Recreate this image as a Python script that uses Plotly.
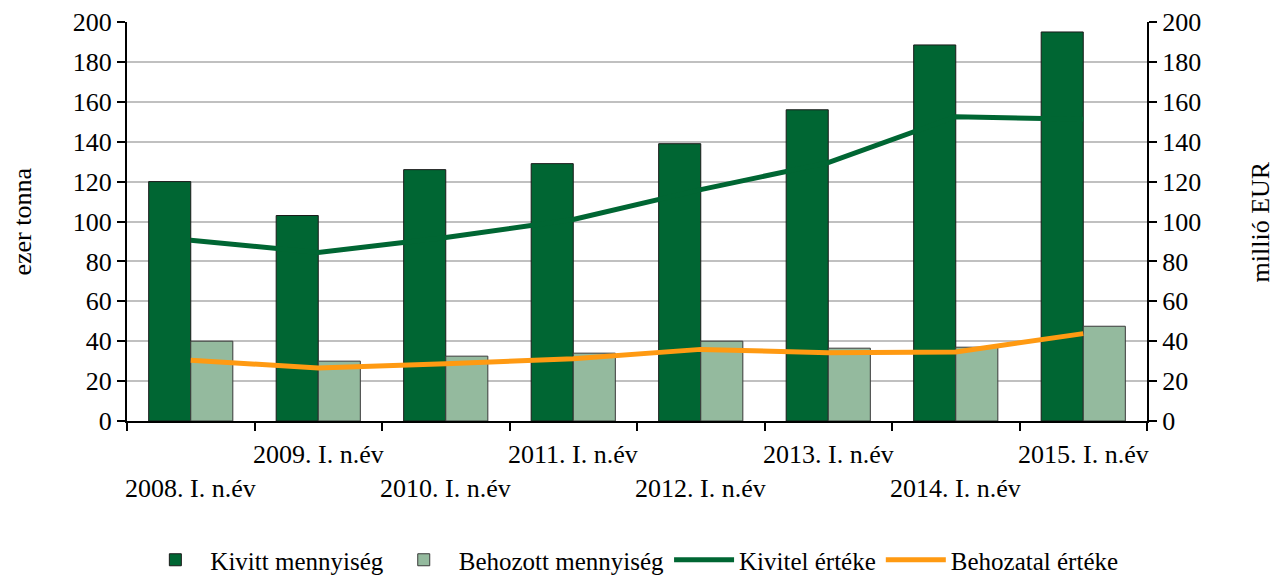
import plotly.graph_objects as go

categories = ["2008. I. n.év", "2009. I. n.év", "2010. I. n.év", "2011. I. n.év",
              "2012. I. n.év", "2013. I. n.év", "2014. I. n.év", "2015. I. n.év"]
kivitt_mennyiseg = [120, 103, 126, 129, 139, 156, 188.5, 195]
behozott_mennyiseg = [40, 30, 32.5, 34, 40, 36.5, 37, 47.5]
kivitel_erteke = [90.6, 84.5, 92, 101, 116, 129.5, 152.5, 151.2]
behozatal_erteke = [30.4, 26.6, 28.7, 31.2, 35.9, 34.2, 34.6, 43.8]
y_ticks = list(range(0, 201, 20))

FONT = "Times New Roman, Liberation Serif, serif"
FS = 26
DARK = "#006633"
LIGHT = "#94BA9E"
ORANGE = "#FF9A12"

fig = go.Figure()
fig.add_trace(go.Bar(x=categories, y=kivitt_mennyiseg, name="Kivitt mennyiség",
                     marker=dict(color=DARK, line=dict(color="#1a1a1a", width=1))))
fig.add_trace(go.Bar(x=categories, y=behozott_mennyiseg, name="Behozott mennyiség",
                     marker=dict(color=LIGHT, line=dict(color="#3a3a3a", width=1))))
fig.add_trace(go.Scatter(x=categories, y=kivitel_erteke, name="Kivitel értéke",
                         mode="lines", line=dict(color=DARK, width=5), yaxis="y2"))
fig.add_trace(go.Scatter(x=categories, y=behozatal_erteke, name="Behozatal értéke",
                         mode="lines", line=dict(color=ORANGE, width=5), yaxis="y2"))

# staggered category labels
for i, c in enumerate(categories):
    fig.add_annotation(x=c, xref="x", yref="paper",
                       y=-0.168 if i % 2 == 0 else -0.0852,
                       text=c, showarrow=False, yanchor="middle", xanchor="center",
                       font=dict(family=FONT, size=FS, color="black"))

# axis titles
fig.add_annotation(x=-0.1029, y=0.5, xref="paper", yref="paper", text="ezer tonna",
                   textangle=-90, showarrow=False, xanchor="center", yanchor="middle",
                   font=dict(family=FONT, size=FS, color="black"))
fig.add_annotation(x=1.1117, y=0.5, xref="paper", yref="paper", text="millió EUR",
                   textangle=-90, showarrow=False, xanchor="center", yanchor="middle",
                   font=dict(family=FONT, size=FS, color="black"))

fig.update_layout(
    width=1281, height=581,
    margin=dict(l=119, r=142, t=14, b=168),
    paper_bgcolor="white", plot_bgcolor="white",
    barmode="group", bargap=0.34, bargroupgap=0,
    font=dict(family=FONT, size=FS, color="black"),
    showlegend=True,
    legend=dict(orientation="h", x=0.487, xanchor="center", xref="container",
                y=1 - 552 / 581, yanchor="middle", yref="container",
                itemwidth=60,
                font=dict(family=FONT, size=25, color="black"), traceorder="normal"),
    xaxis=dict(type="category", showticklabels=False, tickson="boundaries",
               ticks="outside", ticklen=8, tickwidth=2, tickcolor="black",
               showline=True, linecolor="black", linewidth=2, showgrid=False,
               automargin=False,
               range=[-0.5, len(categories) - 0.5]),
    yaxis=dict(range=[0, 200], tickvals=y_ticks, ticks="outside", ticklen=8,
               tickwidth=2, tickcolor="black", showline=True, linecolor="black",
               linewidth=2, showgrid=True, gridcolor="#C0C0C0", gridwidth=1.5,
               zeroline=False, automargin=False, ticklabeloverflow="allow",
               tickfont=dict(family=FONT, size=26, color="black")),
    yaxis2=dict(range=[0, 200], tickvals=y_ticks, overlaying="y", side="right",
                ticks="outside", ticklen=8, tickwidth=2, tickcolor="black",
                showline=True, linecolor="black", linewidth=2, showgrid=False,
                zeroline=False, automargin=False, ticklabeloverflow="allow",
                tickfont=dict(family=FONT, size=26, color="black")),
)

fig.write_html("out.html")
